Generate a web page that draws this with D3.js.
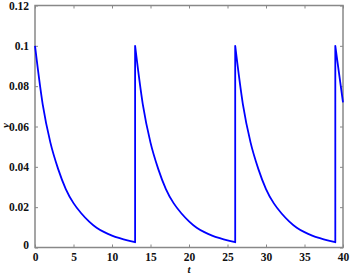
<!DOCTYPE html>
<html>
<head>
<meta charset="utf-8">
<script src="https://cdn.jsdelivr.net/npm/d3@7"></script>
<style>
  body { margin: 0; background: #fff; }
</style>
</head>
<body>
<div id="chart"></div>
<script>
// the sawtooth decay, resetting at t = 13, 26, 39
var tValues = [
  0, 1, 2, 3, 4, 5, 6, 7, 8, 9, 10, 11, 12, 13,
  13, 14, 15, 16, 17, 18, 19, 20, 21, 22, 23, 24, 25, 26,
  26, 27, 28, 29, 30, 31, 32, 33, 34, 35, 36, 37, 38, 39,
  39, 40
]
var yValues = [
  0.100, 0.071, 0.052, 0.039, 0.029, 0.022, 0.017, 0.013, 0.0098, 0.0076, 0.0059, 0.0046, 0.0035, 0.0026,
  0.100, 0.071, 0.052, 0.039, 0.029, 0.022, 0.017, 0.013, 0.0098, 0.0076, 0.0059, 0.0046, 0.0035, 0.0026,
  0.100, 0.071, 0.052, 0.039, 0.029, 0.022, 0.017, 0.013, 0.0098, 0.0076, 0.0059, 0.0046, 0.0035, 0.0026,
  0.100, 0.072
]
var xTicks = [0, 5, 10, 15, 20, 25, 30, 35, 40]
var yTicks = [0, 0.02, 0.04, 0.06, 0.08, 0.1, 0.12]

var margin = { top: 5.5, left: 35, right: 10, bottom: 26.5 }
var width = 353 - margin.left - margin.right
var height = 274 - margin.top - margin.bottom

var serif = "'Liberation Serif', 'Times New Roman', serif"

var svg = d3
  .select('#chart')
  .append('svg')
  .attr('width', 353)
  .attr('height', 274)
  .append('g')
  .attr('transform', 'translate(' + margin.left + ',' + margin.top + ')')

var xScale = d3.scaleLinear().domain([0, 40]).range([0, width])
var yScale = d3.scaleLinear().domain([0, 0.12]).range([height, 0])

var axisColor = '#888'

// bottom / left with labels, top / right bare (box style, ticks inward)
var xAxis = svg
  .append('g')
  .attr('transform', 'translate(0,' + height + ')')
  .call(d3.axisBottom(xScale).tickValues(xTicks).tickSizeInner(-3).tickSizeOuter(0).tickPadding(7).tickFormat(d3.format('')))
var yAxis = svg
  .append('g')
  .call(d3.axisLeft(yScale).tickValues(yTicks).tickSizeInner(-3).tickSizeOuter(0).tickPadding(6).tickFormat(d => d === 0 ? '0' : String(+d.toFixed(2))))
var xTop = svg
  .append('g')
  .call(d3.axisTop(xScale).tickValues(xTicks).tickSizeInner(-3).tickSizeOuter(0).tickFormat(''))
var yRight = svg
  .append('g')
  .attr('transform', 'translate(' + width + ',0)')
  .call(d3.axisRight(yScale).tickValues(yTicks).tickSizeInner(-3).tickSizeOuter(0).tickFormat(''))

;[xAxis, yAxis, xTop, yRight].forEach(g => {
  g.attr('font-family', serif).attr('font-size', 11.5).attr('font-weight', 'bold')
  g.select('.domain').remove()
  g.selectAll('.tick line').attr('stroke', axisColor).attr('stroke-width', 1)
  g.selectAll('.tick text').attr('fill', '#111')
})
xAxis.selectAll('.tick text').attr('dy', '0.55em')
yAxis.selectAll('.tick text').filter(d => d === 0).attr('dy', '0.1em')

svg
  .append('rect')
  .attr('x', 0)
  .attr('y', 0)
  .attr('width', width)
  .attr('height', height)
  .attr('fill', 'none')
  .attr('stroke', axisColor)
  .attr('stroke-width', 1.5)

// split into smooth pieces where t repeats, join them with the vertical jumps
var points = tValues.map((t, i) => ({ t: t, y: yValues[i] }))
var segments = [[points[0]]]
for (var i = 1; i < points.length; i++) {
  if (points[i].t === points[i - 1].t) segments.push([])
  segments[segments.length - 1].push(points[i])
}

var line = d3
  .line()
  .x(d => xScale(d.t))
  .y(d => yScale(d.y))
  .curve(d3.curveMonotoneX)

var pathString = segments
  .map((seg, i) => {
    var s = line(seg)
    return i === 0 ? s : 'L' + s.slice(1)
  })
  .join('')

svg
  .append('path')
  .attr('d', pathString)
  .attr('fill', 'none')
  .attr('stroke', '#0000ff')
  .attr('stroke-width', 1.8)
  .attr('stroke-linejoin', 'round')

svg
  .append('text')
  .attr('x', width / 2)
  .attr('y', height + 25)
  .attr('text-anchor', 'middle')
  .attr('font-family', serif)
  .attr('font-style', 'italic')
  .attr('font-weight', 'bold')
  .attr('font-size', 11)
  .attr('fill', '#111')
  .text('t')

svg
  .append('text')
  .attr('transform', 'translate(' + -26.5 + ',' + (yScale(0.06) - 1) + ') rotate(-90)')
  .attr('text-anchor', 'middle')
  .attr('font-family', serif)
  .attr('font-style', 'italic')
  .attr('font-weight', 'bold')
  .attr('font-size', 11)
  .attr('fill', '#111')
  .text('y')
</script>
</body>
</html>
